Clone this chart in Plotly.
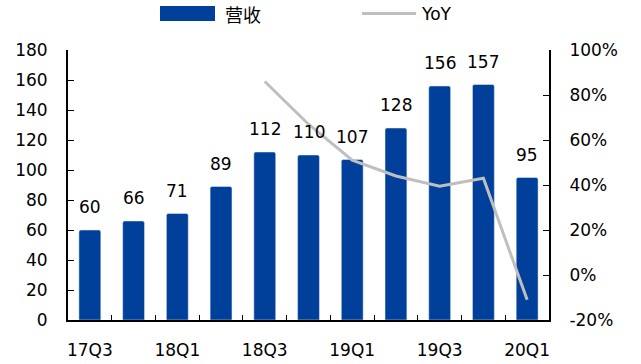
import plotly.graph_objects as go

quarters = ["17Q3", "17Q4", "18Q1", "18Q2", "18Q3", "18Q4", "19Q1", "19Q2", "19Q3", "19Q4", "20Q1"]
revenue = [60, 66, 71, 89, 112, 110, 107, 128, 156, 157, 95]
yoy_quarters = ["18Q3", "18Q4", "19Q1", "19Q2", "19Q3", "19Q4", "20Q1"]
yoy = [86, 67, 51, 44, 39.5, 43, -11]
tick_labels = ["17Q3", "", "18Q1", "", "18Q3", "", "19Q1", "", "19Q3", "", "20Q1"]
pct_ticks = [-20, 0, 20, 40, 60, 80, 100]
pct_labels = ["-20%", "0%", "20%", "40%", "60%", "80%", "100%"]
legend_names = ["营收", "YoY"]

FONT = "DejaVu Sans"
BAR_COLOR = "#00409A"
LINE_COLOR = "#BFBFBF"

# plot area in pixels
L, R, T, B = 68, 549, 50, 320
W, H = 641, 364


def px(x):
    return (x - L) / (R - L)


def py(y):
    return (B - y) / (B - T)


fig = go.Figure()
fig.add_trace(go.Bar(
    x=quarters, y=revenue, name=legend_names[0],
    marker=dict(color=BAR_COLOR, cornerradius=2),
))
fig.add_trace(go.Scatter(
    x=yoy_quarters, y=yoy, name=legend_names[1], yaxis="y2", mode="lines",
    line=dict(color=LINE_COLOR, width=3),
))

# value labels above bars
for q, v in zip(quarters, revenue):
    fig.add_annotation(x=q, y=v, xref="x", yref="y", text=str(v),
                       showarrow=False, yanchor="bottom", yshift=11,
                       font=dict(family=FONT, size=17, color="#000"))

# manual legend
fig.add_shape(type="rect", xref="paper", yref="paper",
              x0=px(160), x1=px(215), y0=py(21), y1=py(6),
              fillcolor=BAR_COLOR, line=dict(width=0))
fig.add_annotation(xref="paper", yref="paper", x=px(223), y=py(14),
                   xanchor="left", yanchor="middle", showarrow=False,
                   text=legend_names[0],
                   font=dict(family="Noto Sans CJK SC", size=18, color="#000"))
fig.add_shape(type="line", xref="paper", yref="paper",
              x0=px(362), x1=px(416), y0=py(13.5), y1=py(13.5),
              line=dict(color=LINE_COLOR, width=3))
fig.add_annotation(xref="paper", yref="paper", x=px(419), y=py(14),
                   xanchor="left", yanchor="middle", showarrow=False,
                   text=legend_names[1],
                   font=dict(family=FONT, size=17, color="#000"))

fig.update_layout(
    width=W, height=H,
    margin=dict(l=L, r=W - R, t=T, b=H - B, autoexpand=False),
    paper_bgcolor="white", plot_bgcolor="white",
    bargap=0.5,
    showlegend=False,
    xaxis=dict(
        type="category", categoryorder="array", categoryarray=quarters,
        tickvals=quarters, ticktext=tick_labels, tickangle=0,
        tickson="boundaries", ticks="inside", ticklen=5, tickcolor="#000", tickwidth=1,
        showline=True, linecolor="#000", linewidth=2,
        showgrid=False, zeroline=False,
        tickfont=dict(family=FONT, size=17, color="#000"),
        ticklabelstandoff=14,
        automargin=False,
    ),
    yaxis=dict(
        range=[0, 180], dtick=20, ticks="inside", ticklen=6, tickcolor="#000",
        showline=True, linecolor="#000", linewidth=2,
        showgrid=False, zeroline=False,
        tickfont=dict(family=FONT, size=17, color="#000"),
        ticklabelstandoff=15,
        automargin=False,
    ),
    yaxis2=dict(
        overlaying="y", side="right", range=[-20, 100],
        tickvals=pct_ticks, ticktext=pct_labels,
        ticks="inside", ticklen=6, tickcolor="#000",
        showline=True, linecolor="#000", linewidth=2,
        showgrid=False, zeroline=False,
        tickfont=dict(family=FONT, size=17, color="#000"),
        ticklabelstandoff=15,
        automargin=False,
    ),
)

fig.write_html("out.html")
